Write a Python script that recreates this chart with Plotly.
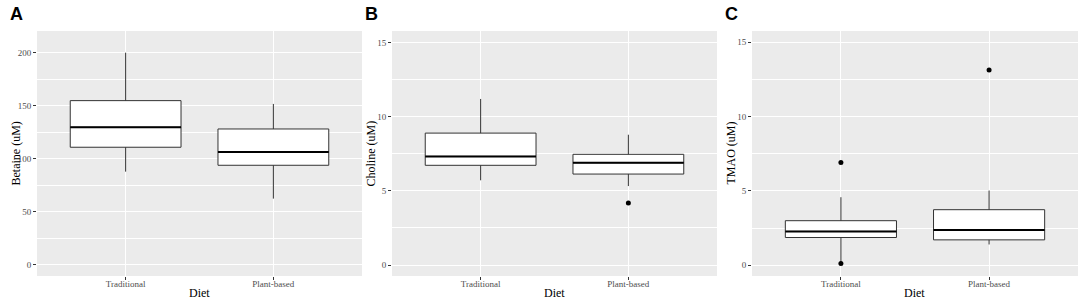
import plotly.graph_objects as go

categories = ["Traditional", "Plant-based"]

# Panel A: Betaine (uM)
betaine_low = [87.9, 62.5]
betaine_q1 = [110.9, 93.9]
betaine_med = [129.7, 106.5]
betaine_q3 = [154.8, 128.1]
betaine_high = [200.0, 151.7]
betaine_out_x = []
betaine_out_y = []

# Panel B: Choline (uM)
choline_low = [5.71, 5.32]
choline_q1 = [6.72, 6.13]
choline_med = [7.32, 6.89]
choline_q3 = [8.89, 7.46]
choline_high = [11.19, 8.78]
choline_out_x = [1]
choline_out_y = [4.18]

# Panel C: TMAO (uM)
tmao_low = [0.22, 1.40]
tmao_q1 = [1.87, 1.71]
tmao_med = [2.28, 2.37]
tmao_q3 = [3.00, 3.74]
tmao_high = [4.58, 5.03]
tmao_out_x = [0, 0, 1]
tmao_out_y = [6.92, 0.12, 13.13]

y_titles = ["Betaine (uM)", "Choline (uM)", "TMAO (uM)"]
panel_letters = ["A", "B", "C"]
y_ticks = [[0, 50, 100, 150, 200], [0, 5, 10, 15], [0, 5, 10, 15]]
y_ranges = [[-10.4, 220.4], [-0.74, 15.77], [-0.72, 15.76]]

W, H = 1084, 301
panel_px = [(37, 362), (392, 717), (752, 1078)]
y_top, y_bot = 31, 276

BOX_W = 0.75
panels = [
    (betaine_low, betaine_q1, betaine_med, betaine_q3, betaine_high, betaine_out_x, betaine_out_y),
    (choline_low, choline_q1, choline_med, choline_q3, choline_high, choline_out_x, choline_out_y),
    (tmao_low, tmao_q1, tmao_med, tmao_q3, tmao_high, tmao_out_x, tmao_out_y),
]

fig = go.Figure()
tick_font = dict(family="Liberation Serif", size=9, color="#4D4D4D")
title_font = dict(family="Liberation Serif", size=12, color="black")

annotations = []
for k, (lo, q1, med, q3, hi, ox, oy) in enumerate(panels):
    xa = "x" if k == 0 else f"x{k+1}"
    ya = "y" if k == 0 else f"y{k+1}"
    pos = list(range(len(categories)))
    fig.add_trace(go.Box(
        x=pos, q1=q1, median=med, q3=q3, lowerfence=lo, upperfence=hi,
        width=BOX_W, whiskerwidth=0, fillcolor="white",
        line=dict(color="#333333", width=1), boxpoints=False,
        xaxis=xa, yaxis=ya, showlegend=False, hoverinfo="skip",
    ))
    mx, my = [], []
    for i, m in zip(pos, med):
        mx += [i - BOX_W / 2, i + BOX_W / 2, None]
        my += [m, m, None]
    fig.add_trace(go.Scatter(
        x=mx, y=my, mode="lines", line=dict(color="black", width=2),
        xaxis=xa, yaxis=ya, showlegend=False, hoverinfo="skip",
    ))
    if ox:
        fig.add_trace(go.Scatter(
            x=ox, y=oy, mode="markers", marker=dict(color="black", size=5),
            xaxis=xa, yaxis=ya, showlegend=False, hoverinfo="skip",
        ))
    x0, x1 = panel_px[k]
    dom_x = [x0 / W, x1 / W]
    dom_y = [1 - y_bot / H, 1 - y_top / H]
    yt = y_ticks[k]
    xkey = "xaxis" if k == 0 else f"xaxis{k+1}"
    ykey = "yaxis" if k == 0 else f"yaxis{k+1}"
    fig.update_layout(**{
        xkey: dict(
            domain=dom_x, range=[-0.6, 1.6], tickmode="array", tickvals=pos,
            ticktext=categories, showgrid=True, gridcolor="white", gridwidth=1,
            zeroline=False, ticks="outside", ticklen=3, tickcolor="#333333",
            tickwidth=1, tickfont=tick_font, anchor=ya, showline=False,
            ticklabelstandoff=-4, fixedrange=True,
        ),
        ykey: dict(
            domain=dom_y, range=y_ranges[k], tickmode="array", tickvals=yt,
            showgrid=True, gridcolor="white", gridwidth=1, zeroline=False,
            ticks="outside", ticklen=3, tickcolor="#333333", tickwidth=1,
            tickfont=tick_font, anchor=xa, showline=False,
            minor=dict(tickmode="array",
                       tickvals=[(yt[j] + yt[j + 1]) / 2 for j in range(len(yt) - 1)],
                       showgrid=True, gridcolor="white", gridwidth=0.5, ticks=""),
            fixedrange=True,
        ),
    })
    # axis titles
    annotations.append(dict(
        text=y_titles[k], x=(x0 - 22) / W, y=1 - ((y_top + y_bot) / 2) / H,
        xref="paper", yref="paper", showarrow=False, textangle=-90,
        font=title_font, xanchor="center", yanchor="middle",
    ))
    annotations.append(dict(
        text="Diet", x=((x0 + x1) / 2) / W, y=1 - 293 / H,
        xref="paper", yref="paper", showarrow=False,
        font=title_font, xanchor="center", yanchor="middle",
    ))
    annotations.append(dict(
        text="<b>" + panel_letters[k] + "</b>", x=(x0 - 29) / W, y=1 - 14 / H,
        xref="paper", yref="paper", showarrow=False,
        font=dict(family="Liberation Sans", size=18, color="black"),
        xanchor="left", yanchor="middle",
    ))

fig.update_layout(
    width=W, height=H, margin=dict(l=0, r=0, t=0, b=0),
    paper_bgcolor="white", plot_bgcolor="#EBEBEB",
    annotations=annotations, showlegend=False,
)

fig.write_html("out.html", config={"displayModeBar": False},
               post_script="document.body.style.margin='0';")
